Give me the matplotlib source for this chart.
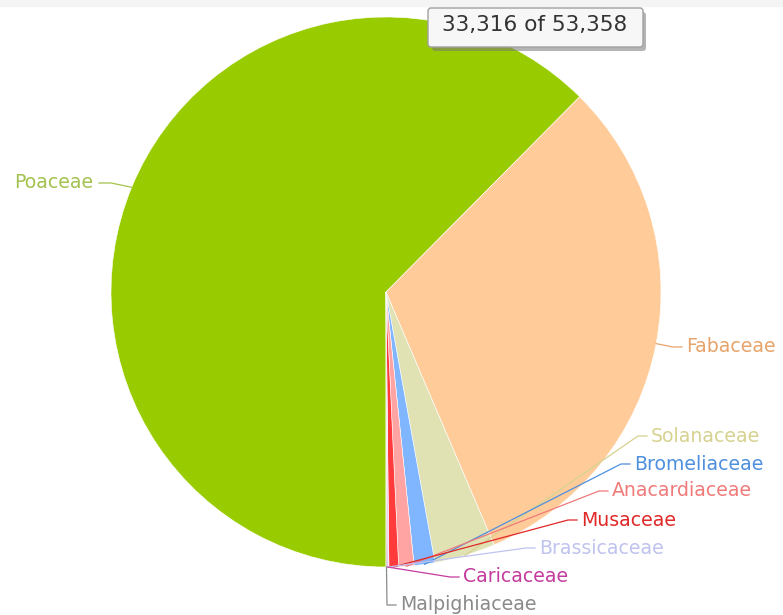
import numpy as np
import matplotlib.pyplot as plt
from matplotlib.patches import FancyBboxPatch

# families and counts (total 53,358)
families = ["Poaceae", "Fabaceae", "Solanaceae", "Bromeliaceae", "Anacardiaceae",
            "Musaceae", "Brassicaceae", "Caricaceae", "Malpighiaceae"]
counts = [33316, 16612, 1910, 650, 480, 300, 30, 30, 30]
slice_colors = ["#99cc00", "#ffcc99", "#e0e2b4", "#7fb6ff", "#ffa3a3",
                "#ff3b3b", "#ccccf5", "#d23ca6", "#9a9a9a"]
label_colors = ["#a3c24e", "#e6a46a", "#d6d290", "#4f90de", "#f07a7a",
                "#e02828", "#bfc3ee", "#c43c9e", "#8a8a8a"]
# label anchor (x px, y px from top), alignment
label_pos = [(93, 183, "right"), (686, 347, "left"), (651, 436, "left"),
             (634, 464, "left"), (612, 491, "left"), (581, 520, "left"),
             (539, 548, "left"), (463, 577, "left"), (400, 605, "left")]

W, H = 783, 615
cx, cy, r = 386, 292, 275

fig = plt.figure(figsize=(W / 100, H / 100), dpi=100)
ax = fig.add_axes([0, 0, 1, 1])
ax.pie(counts, colors=slice_colors, startangle=-90, counterclock=False,
       center=(cx, H - cy), radius=r,
       wedgeprops=dict(linewidth=0.4, edgecolor="#ffffff"))
ax.set_xlim(0, W)
ax.set_ylim(0, H)
ax.set_aspect("equal")
ax.axis("off")

# top strip
ax.axhspan(H - 6, H, color="#f4f4f4", zorder=0)

# labels + connectors
total = float(sum(counts))
cum = 0.0
for name, v, lc, (lx, ly, ha) in zip(families, counts, label_colors, label_pos):
    mid = 180 + (cum + v / 2) / total * 360  # clockwise from top, start at bottom
    cum += v
    th = np.radians(mid)
    ex, ey = cx + r * np.sin(th), cy - r * np.cos(th)
    if ha == "left":
        bx, tx = lx - 13, lx - 4
    else:
        bx, tx = lx + 18, lx + 6
    ax.plot([ex, bx, tx], [H - ey, H - ly, H - ly], color=lc, lw=0.9,
            solid_joinstyle="round", zorder=3)
    ax.text(lx, H - ly, name, color=lc, fontsize=13.6, ha=ha, va="center",
            family="DejaVu Sans", zorder=4)

# tooltip
shadow = FancyBboxPatch((432, H - 51), 214, 39, boxstyle="round,pad=0,rounding_size=3",
                        fc="#777777", ec="none", alpha=0.55, zorder=5)
ax.add_patch(shadow)
box = FancyBboxPatch((428, H - 47), 215, 39, boxstyle="round,pad=0,rounding_size=3",
                     fc="#f7f7f7", ec="#a0a0a0", lw=1, zorder=6)
ax.add_patch(box)
ax.text(535, H - 25, "33,316 of 53,358", fontsize=15.6, color="#333333",
        ha="center", va="center", family="DejaVu Sans", zorder=7)

fig.savefig("out.png", dpi=100)
